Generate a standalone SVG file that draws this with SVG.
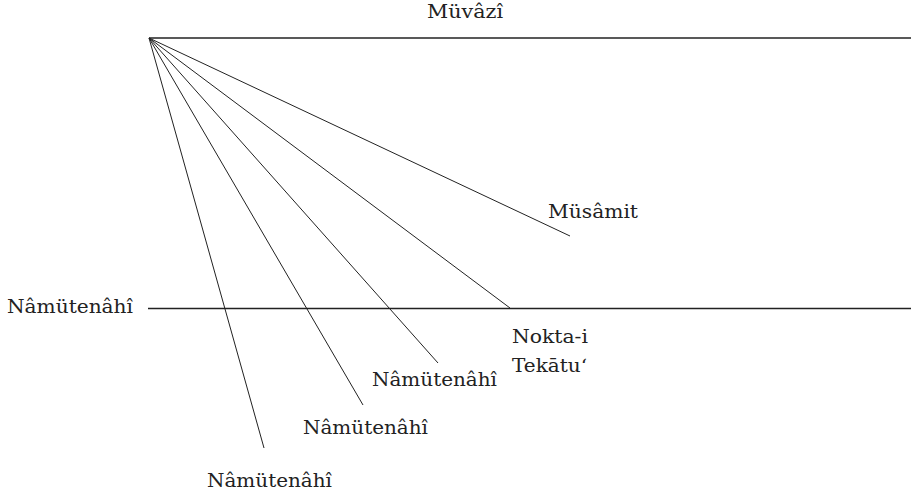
<svg xmlns="http://www.w3.org/2000/svg" width="911" height="494" viewBox="0 0 911 494">
<style>
text{font-family:"DejaVu Serif","Liberation Serif",serif;font-size:19px;fill:#222}
.h{stroke:#222;stroke-width:1.4;fill:none}
.d{stroke:#222;stroke-width:1;fill:none}
</style>
<rect width="911" height="494" fill="#fff"/>
<g id="connectors">
<line class="h" x1="149" y1="38" x2="911" y2="38"/>
<line class="h" x1="148" y1="308.5" x2="911" y2="308.5"/>
<line class="d" x1="149" y1="38" x2="570" y2="236"/>
<line class="d" x1="149" y1="38" x2="510" y2="308"/>
<line class="d" x1="149" y1="38" x2="438" y2="363"/>
<line class="d" x1="149" y1="38" x2="363" y2="405"/>
<line class="d" x1="149" y1="38" x2="264" y2="448"/>
</g>
<g id="muvazi"><text x="427" y="18" textLength="76" lengthAdjust="spacingAndGlyphs">Müvâzî</text></g>
<g id="musamit"><text x="548" y="218" textLength="90" lengthAdjust="spacingAndGlyphs">Müsâmit</text></g>
<g id="nokta"><text x="512" y="343" textLength="76" lengthAdjust="spacingAndGlyphs">Nokta-i</text><text x="512" y="372" textLength="75" lengthAdjust="spacingAndGlyphs">Tekātu‘</text></g>
<g id="namutenahi-left"><text x="7" y="313" textLength="126" lengthAdjust="spacingAndGlyphs">Nâmütenâhî</text></g>
<g id="namutenahi-1"><text x="372" y="386" textLength="125" lengthAdjust="spacingAndGlyphs">Nâmütenâhî</text></g>
<g id="namutenahi-2"><text x="303" y="434" textLength="125" lengthAdjust="spacingAndGlyphs">Nâmütenâhî</text></g>
<g id="namutenahi-3"><text x="207" y="487" textLength="125" lengthAdjust="spacingAndGlyphs">Nâmütenâhî</text></g>
</svg>
